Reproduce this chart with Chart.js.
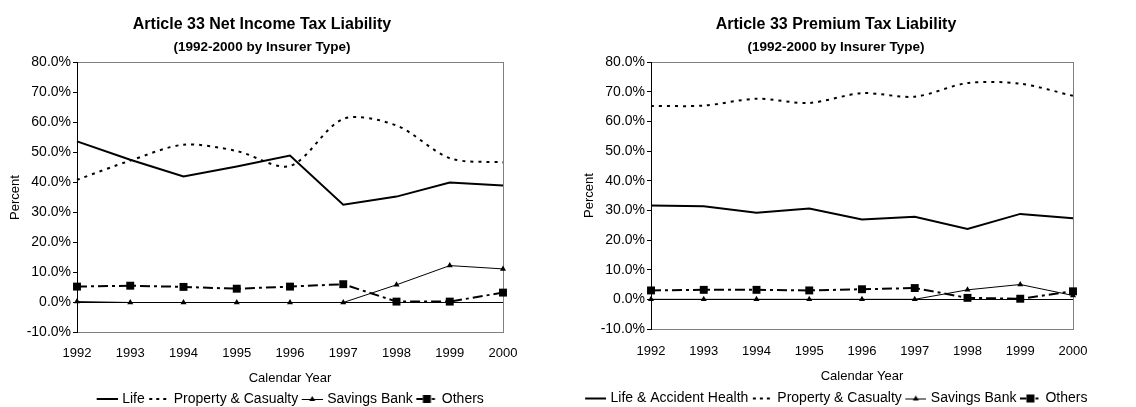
<!DOCTYPE html>
<html>
<head>
<meta charset="utf-8">
<script src="https://cdn.jsdelivr.net/npm/chart.js@4.4.1/dist/chart.umd.min.js"></script>
<style>
  html, body { margin: 0; padding: 0; background: #fff; overflow: hidden; }
  canvas { position: absolute; top: 0; }
  #netChart { left: 0; }
  #premChart { left: 570px; }
</style>
</head>
<body>
<canvas id="netChart" width="524" height="420"></canvas>
<canvas id="premChart" width="532" height="420"></canvas>
<script>
// categories
const years = ['1992', '1993', '1994', '1995', '1996', '1997', '1998', '1999', '2000'];

// y axis range (percent)
const yMin = -10;
const yMax = 80;
const yStep = 10;

// Net income tax liability (percent)
const netLife = [53.7, 47.6, 42.0, 45.3, 49.0, 32.6, 35.3, 40.0, 39.0];
const netPropCas = [40.9, 47.3, 52.6, 50.5, 45.5, 61.2, 59.0, 48.1, 46.7];
const netSavings = [0.3, 0, 0, 0, 0, 0, 5.9, 12.3, 11.2];
const netOthers = [5.3, 5.6, 5.2, 4.6, 5.3, 6.1, 0.3, 0.3, 3.3];

// Premium tax liability (percent)
const premLife = [31.6, 31.4, 29.2, 30.6, 26.9, 27.8, 23.7, 28.8, 27.3];
const premPropCas = [65.2, 65.3, 67.6, 66.2, 69.5, 68.3, 72.9, 72.7, 68.6];
const premSavings = [0, 0, 0, 0, 0, 0, 3.2, 5.0, 1.3];
const premOthers = [3.0, 3.2, 3.2, 3.0, 3.4, 3.8, 0.5, 0.2, 2.7];

Chart.defaults.font.family = '"Liberation Sans", Arial, sans-serif';
Chart.defaults.color = '#000';

// little line+marker pictures for the legend, like the spreadsheet legend
// (drawn in the right part of a 24px image so there is a gap after the previous label)
function legendSample(kind) {
    const c = document.createElement('canvas');
    c.width = 24;
    c.height = 12;
    const g = c.getContext('2d');
    g.strokeStyle = '#000';
    g.fillStyle = '#000';
    const y = 6;
    const mid = 13.5;
    g.beginPath();
    if (kind === 'solid') {
        g.lineWidth = 2;
        g.moveTo(3, y); g.lineTo(24, y);
        g.stroke();
    } else if (kind === 'dotted') {
        g.lineWidth = 2;
        g.setLineDash([3, 4]);
        g.moveTo(4, y); g.lineTo(24, y);
        g.stroke();
    } else if (kind === 'triangle') {
        g.lineWidth = 1;
        g.moveTo(3, y + 0.5); g.lineTo(24, y + 0.5);
        g.stroke();
        g.beginPath();
        g.moveTo(mid, y - 3); g.lineTo(mid + 3, y + 2); g.lineTo(mid - 3, y + 2);
        g.closePath();
        g.fill();
    } else {
        g.lineWidth = 2;
        g.moveTo(3, y); g.lineTo(mid - 4, y);
        g.moveTo(mid + 5, y); g.lineTo(mid + 8, y);
        g.stroke();
        g.fillRect(mid - 4, y - 4, 8, 8);
    }
    return c;
}

const samples = [legendSample('solid'), legendSample('dotted'), legendSample('triangle'), legendSample('square')];

function makeDatasets(labels, life, propCas, savings, others) {
    return [
        {
            label: labels[0],
            data: life,
            borderColor: '#000',
            borderWidth: 2,
            pointRadius: 0,
            tension: 0,
            clip: false,
        },
        {
            label: labels[1],
            data: propCas,
            borderColor: '#000',
            borderWidth: 2,
            borderDash: [3, 5],
            pointRadius: 0,
            tension: 0.3, // smoothed line
            clip: false,
        },
        {
            label: labels[2],
            data: savings,
            borderColor: '#000',
            backgroundColor: '#000',
            borderWidth: 1,
            pointStyle: 'triangle',
            pointRadius: 3.5,
            pointBorderWidth: 0,
            tension: 0,
            clip: false,
        },
        {
            label: labels[3],
            data: others,
            borderColor: '#000',
            backgroundColor: '#000',
            borderWidth: 2,
            borderDash: [10, 4, 3, 4],
            pointStyle: 'rect',
            pointRadius: 5.6,
            pointBorderWidth: 0,
            tension: 0,
            clip: false,
        },
    ];
}

function makeOptions(cfg) {
    return {
        responsive: false,
        animation: false,
        layout: { padding: { top: 0, left: 0, right: 0, bottom: cfg.padBottom } },
        scales: {
            x: {
                type: 'category',
                offset: false,
                grid: { display: false },
                border: { color: '#808080', width: 1 },
                ticks: { padding: cfg.xTickPad, font: { size: 13 }, color: '#000', maxRotation: 0, autoSkip: false },
                title: { display: true, text: 'Calendar Year', font: { size: 13 }, color: '#000', padding: { top: 0, bottom: cfg.xTitlePad } },
                afterFit: function (scale) { scale.height = cfg.xHeight; },
            },
            y: {
                min: yMin,
                max: yMax,
                ticks: {
                    stepSize: yStep,
                    padding: 2,
                    font: { size: 14 },
                    color: '#000',
                    callback: function (value) { return value.toFixed(1) + '%'; },
                },
                grid: {
                    color: function (ctx) {
                        if (!ctx.tick) return 'rgba(0,0,0,0)';
                        if (ctx.tick.value === 0) return '#000'; // category axis crosses at zero
                        if (ctx.tick.value === yMax) return '#808080'; // plot area border
                        return 'rgba(0,0,0,0)';
                    },
                    tickColor: '#000',
                    tickLength: 4,
                    lineWidth: 1,
                },
                border: { color: '#000', width: 1 },
                title: { display: true, text: 'Percent', font: { size: 13 }, color: '#000', padding: { top: cfg.yTitlePad, bottom: 0 } },
                afterFit: function (scale) { scale.width = cfg.yWidth; },
            },
            // empty right axis: gives the grey right border and the right margin
            yR: {
                position: 'right',
                min: yMin,
                max: yMax,
                ticks: { display: false },
                grid: { display: false },
                border: { color: '#808080', width: 1 },
                afterFit: function (scale) { scale.width = cfg.rWidth; },
            },
        },
        plugins: {
            title: {
                display: true,
                text: cfg.title,
                color: '#000',
                font: { size: 16, weight: 'bold' },
                padding: { top: 15.4, bottom: 4.6 },
            },
            subtitle: {
                display: true,
                text: '(1992-2000 by Insurer Type)',
                color: '#000',
                font: { size: 13.5, weight: 'bold' },
                padding: { top: 0, bottom: cfg.subPad },
            },
            legend: {
                display: true,
                position: 'bottom',
                fullSize: cfg.legendFull,
                labels: {
                    usePointStyle: true,
                    pointStyleWidth: 19,
                    padding: 3,
                    color: '#000',
                    font: { size: 14 },
                    generateLabels: function (chart) {
                        return chart.data.datasets.map(function (ds, i) {
                            return {
                                text: ds.label,
                                pointStyle: samples[i],
                                fillStyle: 'rgba(0,0,0,0)',
                                strokeStyle: 'rgba(0,0,0,0)',
                                lineWidth: 0,
                                fontColor: '#000',
                                hidden: false,
                                datasetIndex: i,
                            };
                        });
                    },
                },
            },
            tooltip: { enabled: false },
        },
    };
}

new Chart(document.getElementById('netChart'), {
    type: 'line',
    data: {
        labels: years,
        datasets: makeDatasets(['Life', 'Property & Casualty', 'Savings Bank', 'Others'],
            netLife, netPropCas, netSavings, netOthers),
    },
    options: makeOptions({
        title: 'Article 33 Net Income Tax Liability',
        padBottom: 4,
        xHeight: 56.5,
        xTickPad: 5,
        xTitlePad: 3.2,
        yWidth: 77,
        yTitlePad: 7.2,
        rWidth: 21,
        subPad: 7.1,
        legendFull: false,
    }),
});

new Chart(document.getElementById('premChart'), {
    type: 'line',
    data: {
        labels: years,
        datasets: makeDatasets(['Life & Accident Health', 'Property & Casualty', 'Savings Bank', 'Others'],
            premLife, premPropCas, premSavings, premOthers),
    },
    options: makeOptions({
        title: 'Article 33 Premium Tax Liability',
        padBottom: 4.5,
        xHeight: 59.5,
        xTickPad: 6.2,
        xTitlePad: 4.2,
        yWidth: 81,
        yTitlePad: 11.7,
        rWidth: 29,
        subPad: 6.6,
        legendFull: true,
    }),
});
</script>
</body>
</html>
